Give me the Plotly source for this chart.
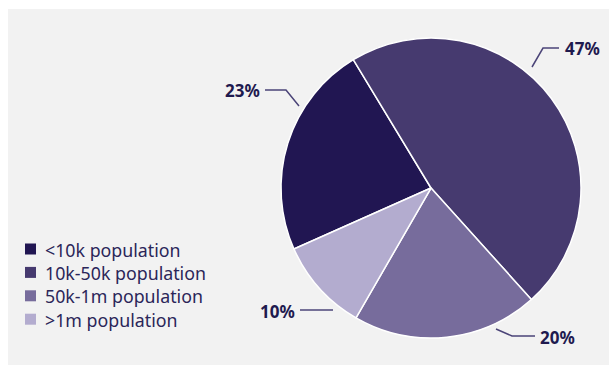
import plotly.graph_objects as go

# Share of places by population band
categories = ["<10k population", "10k-50k population", "50k-1m population", ">1m population"]
shares = [23, 47, 20, 10]

colors = ["#211652", "#463a6f", "#776c9c", "#b3accf"]
text_color = "#1f1a4f"
legend_text_color = "#2b2659"
line_color = "#4b4478"
font_family = "Noto Sans"

W, H = 609, 365


def px(x):
    return x / W


def py(y):
    return 1 - y / H


fig = go.Figure(
    go.Pie(
        labels=categories,
        values=shares,
        sort=False,
        direction="clockwise",
        rotation=246,
        marker=dict(colors=colors, line=dict(color="white", width=1.5)),
        textinfo="none",
        hoverinfo="label+percent",
        domain=dict(x=[px(281), px(581)], y=[py(338), py(38)]),
        showlegend=False,
    )
)

# Callout placement for each slice: leader start, elbow, line end, text anchor (pixels)
callouts = [
    dict(start=(299, 106), elbow=(286, 90), end=(265, 90), text=(262, 90), anchor="right"),
    dict(start=(532, 67), elbow=(543, 48), end=(559, 48), text=(563, 48), anchor="left"),
    dict(start=(496, 329), elbow=(512, 336), end=(535, 336), text=(538, 337), anchor="left"),
    dict(start=(333, 310), elbow=(333, 310), end=(300, 310), text=(297, 311), anchor="right"),
]

shapes = [
    dict(type="rect", xref="paper", yref="paper", x0=px(8), x1=1, y0=0, y1=py(9),
         fillcolor="#f2f2f2", line=dict(width=0), layer="below")
]
annotations = []
for value, c in zip(shares, callouts):
    pts = [c["start"], c["elbow"], c["end"]]
    path = "M " + " L ".join(f"{px(x)},{py(y)}" for x, y in pts)
    shapes.append(dict(type="path", xref="paper", yref="paper", path=path,
                       line=dict(color=line_color, width=1.5)))
    annotations.append(dict(
        x=px(c["text"][0]), y=py(c["text"][1]), xref="paper", yref="paper",
        text=f"<b>{value}%</b>", showarrow=False, xanchor=c["anchor"], yanchor="middle",
        font=dict(family=font_family, size=17, color=text_color),
    ))

# Legend: colour key squares with category names
legend_left, legend_top, legend_step, swatch = 25, 249.5, 23.4, 11
for i, (name, col) in enumerate(zip(categories, colors)):
    cy = legend_top + i * legend_step
    shapes.append(dict(type="rect", xref="paper", yref="paper",
                       x0=px(legend_left), x1=px(legend_left + swatch),
                       y0=py(cy + swatch / 2 - 0.5), y1=py(cy - swatch / 2 - 0.5),
                       fillcolor=col, line=dict(width=0)))
    annotations.append(dict(
        x=px(legend_left + swatch + 7), y=py(cy), xref="paper", yref="paper",
        text=name, showarrow=False, xanchor="left", yanchor="middle",
        font=dict(family=font_family, size=17.8, color=legend_text_color),
    ))

fig.update_layout(
    width=W,
    height=H,
    margin=dict(l=0, r=0, t=0, b=0),
    paper_bgcolor="white",
    shapes=shapes,
    annotations=annotations,
    showlegend=False,
)

fig.write_html("out.html")
